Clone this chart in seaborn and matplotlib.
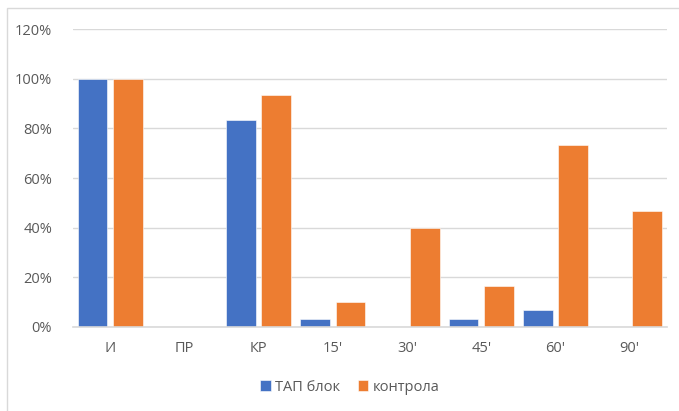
import pandas as pd
import matplotlib.pyplot as plt
import seaborn as sns
from matplotlib.patches import Rectangle
from matplotlib.ticker import PercentFormatter

# данни
categories = ["И", "ПР", "КР", "15'", "30'", "45'", "60'", "90'"]
tap_blok = [100, 0, 83.3, 3.3, 0, 3.3, 6.7, 0]
kontrola = [100, 0, 93.3, 10, 40, 16.7, 73.3, 46.7]
series_names = ["ТАП блок", "контрола"]

df = pd.DataFrame({
    "cat": categories * 2,
    "value": tap_blok + kontrola,
    "group": [series_names[0]] * len(categories) + [series_names[1]] * len(categories),
})

sns.set_style("white")
plt.rcParams["font.family"] = ["Open Sans", "DejaVu Sans"]

fig = plt.figure(figsize=(6.79, 4.11), dpi=100)
ax = fig.add_axes([0.1075, 0.2044, 0.8745, 0.725])

sns.barplot(data=df, x="cat", y="value", hue="group", order=categories,
            hue_order=series_names, palette=["#4472C4", "#ED7D31"], saturation=1,
            width=0.952, gap=0.16, ax=ax, legend=True,
            edgecolor="white", linewidth=0.4)

ax.set_ylim(0, 120)
ax.set_xlim(-0.5, len(categories) - 0.5)
ax.set_yticks(range(0, 121, 20))
ax.yaxis.set_major_formatter(PercentFormatter(decimals=0))
ax.grid(axis="y", color="#D9D9D9", linewidth=1)
ax.set_axisbelow(True)
for s in ["top", "right", "left"]:
    ax.spines[s].set_visible(False)
ax.spines["bottom"].set_color("#D9D9D9")
ax.spines["bottom"].set_linewidth(1.2)
ax.tick_params(axis="both", length=0, colors="#595959", labelsize=10.5)
ax.tick_params(axis="x", pad=10)
ax.tick_params(axis="y", pad=15)
ax.set_xlabel("")
ax.set_ylabel("")

ax.legend(loc="center", bbox_to_anchor=(0.515, 0.058), bbox_transform=fig.transFigure,
          ncol=2, frameon=False, fontsize=10.5, handlelength=0.75, handleheight=0.8,
          handletextpad=0.3, columnspacing=1.2, labelcolor="#595959")

# рамка на диаграмата
fig.patches.append(Rectangle((7 / 679, -0.01), 1.0, 1 - 8 / 411 + 0.01,
                             transform=fig.transFigure, fill=False,
                             edgecolor="#D9D9D9", linewidth=1))

fig.savefig("out.png", dpi=100)
